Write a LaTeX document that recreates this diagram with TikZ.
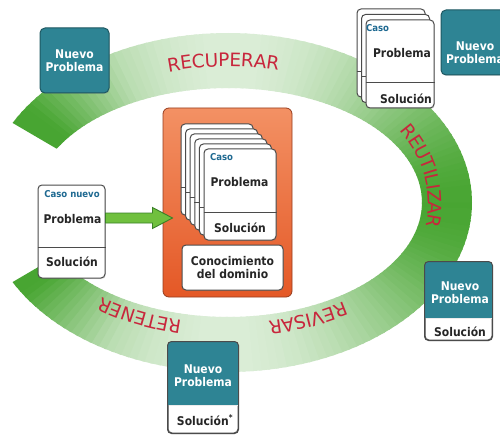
\documentclass[tikz,border=0pt]{standalone}
\usepackage{fontspec}
\setmainfont{DejaVu Sans}
\newfontfamily\cardfont{DejaVu Sans Condensed}
\usetikzlibrary{decorations.text,shadows,calc}
\definecolor{ringgreen}{RGB}{72,165,50}
\definecolor{tealc}{RGB}{46,132,148}
\definecolor{tealdark}{RGB}{30,88,98}
\definecolor{cardgray}{RGB}{75,75,75}
\definecolor{casoblue}{RGB}{30,105,145}
\definecolor{lblred}{RGB}{200,38,60}
\definecolor{arrowfill}{RGB}{112,192,62}
\definecolor{arrowline}{RGB}{58,128,40}
\definecolor{orangetop}{RGB}{243,145,100}
\definecolor{orangebot}{RGB}{228,88,38}
\definecolor{orangeline}{RGB}{150,60,30}
\newcommand\ringfont{\fontsize{18.5}{20}\selectfont\color{lblred}}
\begin{document}
\begin{tikzpicture}[x=1pt,y=1pt,
  card/.style={draw=cardgray, line width=1pt, fill=white, rounded corners=4pt, inner sep=0pt,
    drop shadow={opacity=0.25, shadow xshift=0.8pt, shadow yshift=-1pt}},
  cardframe/.style={draw=cardgray, line width=1pt, rounded corners=4pt},
  tealbox/.style={draw=tealdark, line width=1pt, fill=tealc, rounded corners=5pt, inner sep=0pt,
    drop shadow={opacity=0.25, shadow xshift=0.8pt, shadow yshift=-1pt}},
  divline/.style={draw=cardgray, line width=0.8pt},
  lbl/.style={font=\cardfont\bfseries\fontsize{12}{13}\selectfont, text=black!85, inner sep=0pt, align=center},
  wlbl/.style={lbl, text=white},
  caso/.style={font=\cardfont\bfseries\fontsize{9.5}{10}\selectfont, text=casoblue, inner sep=0pt},
  ringtxt/.style={decorate, decoration={text along path, text align=center, raise=-6.5pt, text={|\ringfont|#1}}}
]
\useasboundingbox (0,0) rectangle (500,437);
\fill[white] (0,0) rectangle (500,437);

% ---- green ring ----
\foreach \a in {152,150,...,-150}{
  \pgfmathsetmacro\b{max(\a-2.6,-152)}
  \pgfmathsetmacro\p{int(100*min(1,0.6+0.4*cos(2*\a)+0.3*max(0,(abs(\a)-118)/34)))}
  \fill[ringgreen!\p!white, shift={(228,234.5)}]
    ({244*cos(\a)},{169.5*sin(\a)}) -- ({244*cos(\b)},{169.5*sin(\b)}) --
    ({194*cos(\b)},{114.5*sin(\b)}) -- ({194*cos(\a)},{114.5*sin(\a)}) -- cycle;
}

% ---- ring labels ----
\path[ringtxt=RECUPERAR] ({228+215*cos(140)},{234.5+142.5*sin(140)})
  arc[start angle=140, end angle=43, x radius=215, y radius=142.5];
\path[ringtxt=REUTILIZAR] ({228+207*cos(60)},{234.5+145*sin(60)})
  arc[start angle=60, end angle=-42, x radius=207, y radius=145];
\path[ringtxt=REVISAR] ({228+208*cos(-25)},{234.5+128*sin(-25)})
  arc[start angle=-25, end angle=-103, x radius=208, y radius=128];
\path[ringtxt=RETENER] ({228+208*cos(-80)},{234.5+128*sin(-80)})
  arc[start angle=-80, end angle=-158, x radius=208, y radius=128];

% ---- central orange box ----
\node[draw=orangeline, line width=0.8pt, rounded corners=6pt, top color=orangetop, bottom color=orangebot,
  minimum width=129, minimum height=189, inner sep=0pt] (ob) at (227.5,234.5) {};

% back cards of the stack (lower-left hidden)
\begin{scope}
  \clip (165,330) -- (300,330) -- (300,185) -- (207,185) -- (207,196) -- (172,227) -- (165,227) -- cycle;
  \foreach \k in {5,4,3,2,1}{
    \node[card, minimum width=72, minimum height=91] (bk\k) at ({240-4.6*\k},{242.5+5*\k}) {};
    \draw[divline] (bk\k.west |- 0,{225+5*\k}) -- (bk\k.east |- 0,{225+5*\k});
  }
\end{scope}
\node[card, minimum width=72, minimum height=91] (fc) at (240,242.5) {};
\draw[divline] (fc.west |- 0,225) -- (fc.east |- 0,225);
\node[caso] (fcaso) at (221.5,280) {Caso};
\node[lbl] (fprob) at (239.5,255) {Problema};
\node[lbl] (fsol) at (240,209) {Solución};

\node[card, minimum width=101, minimum height=45] (kb) at (232.5,169.5) {};
\node[lbl] (kbt) at (232.5,169.5) {Conocimiento\\del dominio};

% ---- left card: caso nuevo ----
\node[card, minimum width=67, minimum height=93] (lc) at (71.5,205.5) {};
\draw[divline] (lc.west |- 0,190) -- (lc.east |- 0,190);
\node[caso] (lcaso) at (72,243) {Caso nuevo};
\node[lbl] (lprob) at (72.5,218) {Problema};
\node[lbl] (lsol) at (72,175) {Solución};

% ---- green arrow ----
\coordinate (ar) at (lc.east |- 0,219);
\draw[arrowline, fill=arrowfill, line width=0.9pt, line join=miter]
  (ar) ++(0,5) -- ++(47,0) -- ++(0,5.5) -- ++(20,-10.5) -- ++(-20,-10.5) -- ++(0,5.5) -- ++(-47,0) -- cycle;

% ---- top-left new problem ----
\node[tealbox, minimum width=69, minimum height=65] (np1) at (74.5,376.5) {};
\node[wlbl] (np1t) at (74.5,376.5) {Nuevo\\Problema};

% ---- top-right stack ----
\foreach \k in {2,1}{
  \node[card, minimum width=68, minimum height=88] (tb\k) at ({400-4.5*\k},{373+5.5*\k}) {};
  \draw[divline] (tb\k.west |- 0,{355+5.5*\k}) -- (tb\k.east |- 0,{355+5.5*\k});
}
\node[card, minimum width=68, minimum height=88] (tc) at (400,373) {};
\draw[divline] (tc.west |- 0,355) -- (tc.east |- 0,355);
\node[caso] (tcaso) at (377.5,409) {Caso};
\node[lbl] (tprob) at (402,384) {Problema};
\node[lbl] (tsol) at (406,338) {Solución};

% ---- top-right new problem ----
\node[tealbox, minimum width=67, minimum height=65] (np2) at (474.5,394.5) {};
\node[wlbl] (np2t) at (475,384) {Nuevo\\Problema};

% ---- right card ----
\node[card, minimum width=67, minimum height=78] (rc) at (458.5,136) {};
\begin{scope}
  \clip[rounded corners=4pt] (rc.south west) rectangle (rc.north east);
  \fill[tealc] (rc.north west) rectangle (rc.east |- 0,119);
\end{scope}
\draw[cardframe] (rc.south west) rectangle (rc.north east);
\draw[white!85!gray, line width=1pt] ([xshift=1pt]rc.west |- 0,118.5) -- ([xshift=-1pt]rc.east |- 0,118.5);
\node[wlbl] (rct) at (460,144.5) {Nuevo\\Problema};
\node[lbl] (rcs) at (460,105) {Solución};

% ---- bottom card ----
\node[card, minimum width=70, minimum height=91] (bc) at (203,49.5) {};
\begin{scope}
  \clip[rounded corners=4pt] (bc.south west) rectangle (bc.north east);
  \fill[tealc] (bc.north west) rectangle (bc.east |- 0,32);
\end{scope}
\draw[cardframe] (bc.south west) rectangle (bc.north east);
\draw[white!85!gray, line width=1pt] ([xshift=1pt]bc.west |- 0,31.5) -- ([xshift=-1pt]bc.east |- 0,31.5);
\node[wlbl] (bct) at (203,61) {Nuevo\\Problema};
\node[lbl] (bcs) at (205,17) {Solución\textsuperscript{*}};
\end{tikzpicture}
\end{document}
